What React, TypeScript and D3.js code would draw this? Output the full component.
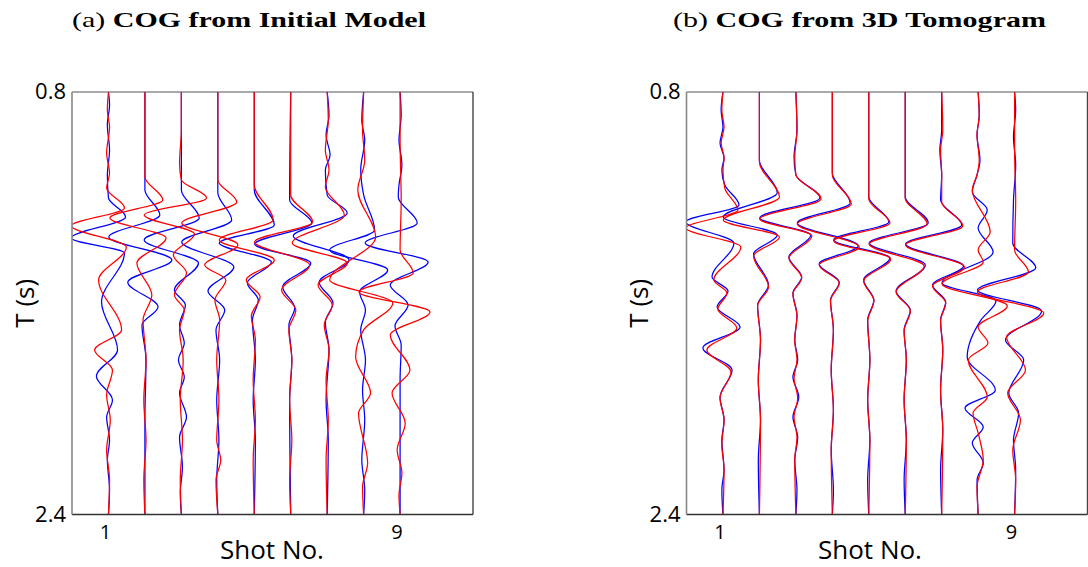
import React from "react";
import * as d3 from "d3";

type Pt = [number, number]; // [time (s), amplitude in shot-spacing units]

const shotTicks = [1, 9];
const timeTicks = [0.8, 2.4];
const timeDomain: [number, number] = [0.8, 2.4];
const shotDomain: [number, number] = [0, 11];

// (a) initial model — blue traces
const initialBlue: Pt[][] = [
  [[0.8,0],[0.849,0.03],[0.925,-0.03],[1.02,0.03],[1.114,-0.03],[1.201,0],[1.273,0.47],[1.353,-1.02],[1.41,0.44],[1.595,-0.19],[1.777,0.25],[1.876,-0.33],[1.966,0.11],[2.031,-0.05],[2.118,0.03],[2.194,-0.03],[2.307,0.03],[2.4,0]],
  [[0.8,0],[1.171,0],[1.266,0.41],[1.349,-0.99],[1.436,0.74],[1.52,-0.47],[1.614,0.36],[1.682,-0.08],[1.815,0.03],[2.042,0],[2.4,0]],
  [[0.8,0],[1.171,0],[1.277,0.49],[1.36,-1.02],[1.448,0.47],[1.55,-0.19],[1.607,0.11],[1.682,-0.05],[1.751,0.08],[1.815,-0.08],[1.879,0.08],[1.94,-0.05],[2.031,0.14],[2.107,-0.05],[2.22,0.03],[2.319,-0.03],[2.4,0]],
  [[0.8,0],[1.182,0],[1.285,0.38],[1.368,-0.99],[1.463,0.44],[1.554,-0.27],[1.626,0.19],[1.701,-0.05],[1.815,0.05],[1.966,-0.03],[2.118,0.03],[2.269,-0.03],[2.4,0]],
  [[0.8,0],[1.171,0],[1.304,0.55],[1.372,-0.96],[1.444,0.47],[1.523,-0.19],[1.588,0.11],[1.663,-0.05],[1.815,0.03],[1.966,-0.03],[2.118,0.03],[2.4,0]],
  [[0.8,0],[1.209,-0.03],[1.296,0.58],[1.376,-0.99],[1.448,0.55],[1.538,-0.22],[1.618,0.11],[1.682,-0.05],[1.815,0.03],[1.966,-0.03],[2.4,0]],
  [[0.8,0],[0.887,0.05],[0.963,-0.03],[1.039,0.08],[1.095,-0.05],[1.19,0],[1.258,0.55],[1.345,-0.93],[1.436,0.6],[1.52,-0.22],[1.599,0.16],[1.671,-0.05],[1.777,0.05],[1.966,-0.03],[2.118,0.03],[2.4,0]],
  [[0.8,0],[0.906,-0.05],[0.982,0.03],[1.095,-0.08],[1.19,0],[1.323,0.3],[1.398,-0.93],[1.474,0.66],[1.557,-0.11],[1.626,0.05],[1.701,-0.08],[1.815,0.05],[1.929,-0.03],[2.042,0.03],[2.194,-0.05],[2.307,0.03],[2.4,0]],
  [[0.8,0],[0.887,0.03],[0.982,-0.03],[1.076,0.05],[1.152,-0.03],[1.198,-0.05],[1.296,0.47],[1.372,-0.96],[1.444,0.77],[1.531,-0.27],[1.607,0.22],[1.686,-0.14],[1.758,0.03],[1.891,0],[2.4,0]],
];

// (a) initial model — red traces
const initialRed: Pt[][] = [
  [[0.8,0],[0.868,-0.03],[0.933,0.03],[1.031,-0.05],[1.107,0.03],[1.164,-0.05],[1.239,0.44],[1.307,-1.02],[1.387,0.49],[1.512,-0.27],[1.701,0.36],[1.777,-0.38],[1.853,0.11],[1.947,-0.05],[2.042,0.05],[2.156,-0.05],[2.269,0.03],[2.4,0]],
  [[0.8,0],[1.122,0],[1.209,0.49],[1.277,-0.96],[1.353,0.58],[1.448,-0.22],[1.569,0.19],[1.663,-0.05],[1.815,0.03],[1.966,-0.03],[2.118,0.03],[2.269,-0.03],[2.4,0]],
  [[0.8,0],[0.944,0],[1.069,-0.05],[1.133,0],[1.201,0.69],[1.266,-1.02],[1.338,0.36],[1.417,-0.22],[1.485,0.14],[1.569,-0.19],[1.626,0.08],[1.701,-0.05],[1.815,0.05],[1.966,-0.03],[2.118,0.03],[2.269,-0.03],[2.4,0]],
  [[0.8,0],[1.133,0],[1.217,0.52],[1.296,-0.99],[1.379,0.55],[1.455,-0.36],[1.512,0.22],[1.588,-0.08],[1.663,0.05],[1.815,-0.03],[1.966,0.03],[2.118,-0.03],[2.194,0.08],[2.269,-0.05],[2.4,0]],
  [[0.8,0],[1.152,0],[1.285,0.52],[1.36,-0.96],[1.436,0.55],[1.512,-0.22],[1.576,0.16],[1.648,-0.08],[1.739,0.03],[1.891,-0.03],[2.042,0.03],[2.194,-0.03],[2.4,0]],
  [[0.8,0],[1.19,0],[1.292,0.6],[1.368,-0.99],[1.455,0.52],[1.55,-0.25],[1.626,0.14],[1.701,-0.05],[1.815,0.03],[1.966,-0.03],[2.118,0.03],[2.269,-0.03],[2.4,0]],
  [[0.8,0],[0.906,0.03],[1.02,-0.05],[1.095,0.05],[1.16,-0.05],[1.266,0.47],[1.372,-0.96],[1.448,0.55],[1.531,-0.25],[1.607,0.14],[1.682,-0.08],[1.777,0.05],[1.891,-0.03],[2.042,0.03],[2.194,-0.03],[2.4,0]],
  [[0.8,0],[0.944,-0.03],[1.058,0.03],[1.171,-0.16],[1.349,0.33],[1.512,-0.93],[1.599,0.8],[1.701,0],[1.804,-0.22],[1.94,0.19],[2.016,-0.14],[2.205,0.11],[2.296,-0.03],[2.4,0]],
  [[0.8,0],[0.982,0],[1.209,0.03],[1.398,0],[1.485,0.36],[1.557,-1.13],[1.633,0.82],[1.72,-0.27],[1.853,0.27],[1.94,-0.22],[2.054,0.14],[2.156,-0.08],[2.243,0.05],[2.326,-0.03],[2.4,0]],
];

// (b) 3D tomogram — blue traces
const tomoBlue: Pt[][] = [
  [[0.8,0],[0.868,-0.05],[0.933,0],[0.993,-0.08],[1.05,0.03],[1.095,-0.03],[1.152,0.05],[1.228,0.44],[1.292,-1.02],[1.372,0.3],[1.501,-0.3],[1.554,0.14],[1.614,-0.16],[1.69,0.47],[1.769,-0.55],[1.853,0.25],[1.955,-0.08],[2.042,0.03],[2.118,-0.03],[2.231,0.03],[2.307,-0.03],[2.4,0]],
  [[0.8,0],[1.058,0],[1.182,0.49],[1.273,-0.99],[1.342,0.49],[1.413,-0.16],[1.531,0.25],[1.607,-0.05],[1.739,0.03],[1.891,-0.03],[2.042,0.03],[2.194,-0.03],[2.4,0]],
  [[0.8,0],[0.944,0.03],[1.046,-0.05],[1.114,0],[1.201,0.66],[1.277,-0.99],[1.342,0.41],[1.425,-0.19],[1.501,0.16],[1.561,-0.08],[1.645,0.03],[1.739,-0.03],[1.815,0.05],[1.879,-0.08],[1.955,0.08],[2.031,-0.08],[2.107,0.05],[2.194,-0.03],[2.307,0.03],[2.4,0]],
  [[0.8,0],[1.107,0],[1.22,0.49],[1.296,-0.96],[1.383,0.71],[1.451,-0.36],[1.52,0.19],[1.588,-0.05],[1.701,0.03],[1.853,-0.03],[2.004,0.03],[2.156,-0.03],[2.307,0.03],[2.4,0]],
  [[0.8,0],[1.198,0],[1.292,0.55],[1.36,-0.96],[1.429,0.58],[1.512,-0.14],[1.588,0.14],[1.663,-0.03],[1.815,0.03],[1.966,-0.03],[2.118,0.03],[2.269,-0.03],[2.4,0]],
  [[0.8,0],[1.198,0],[1.296,0.63],[1.372,-0.99],[1.455,0.55],[1.554,-0.25],[1.626,0.14],[1.701,-0.03],[1.815,0.03],[1.966,-0.03],[2.118,0.03],[2.269,-0.03],[2.4,0]],
  [[0.8,0],[0.944,0],[1.02,-0.05],[1.114,0],[1.209,-0.03],[1.304,0.55],[1.376,-0.99],[1.459,0.6],[1.531,-0.25],[1.595,0.11],[1.663,-0.03],[1.777,0.03],[1.929,-0.03],[2.08,0.03],[2.231,-0.03],[2.4,0]],
  [[0.8,0],[0.887,0.03],[0.963,-0.03],[1.058,0.05],[1.114,-0.03],[1.179,-0.16],[1.247,0.25],[1.315,0],[1.406,0.41],[1.523,-0.99],[1.591,0.49],[1.663,0.08],[1.804,-0.3],[1.929,0.47],[1.997,-0.36],[2.069,0.14],[2.129,-0.16],[2.205,0.14],[2.269,-0.03],[2.4,0]],
  [[0.8,0],[0.868,0.03],[0.97,-0.03],[1.076,0.03],[1.209,-0.03],[1.372,-0.05],[1.466,0.58],[1.55,-1.02],[1.629,0.74],[1.739,-0.25],[1.815,0.25],[1.94,-0.16],[2.016,0.11],[2.118,-0.03],[2.231,0.03],[2.4,0]],
];

// (b) 3D tomogram — red traces
const tomoRed: Pt[][] = [
  [[0.8,0],[0.868,-0.03],[0.933,0.03],[0.993,-0.05],[1.05,0.03],[1.095,0],[1.164,0.05],[1.247,0.41],[1.315,-1.02],[1.387,0.49],[1.512,-0.25],[1.561,0.11],[1.622,-0.14],[1.694,0.38],[1.777,-0.44],[1.86,0.22],[1.959,-0.08],[2.042,0.03],[2.137,-0.03],[2.231,0.03],[2.4,0]],
  [[0.8,0],[1.065,0],[1.198,0.55],[1.285,-0.99],[1.349,0.55],[1.421,-0.16],[1.538,0.25],[1.61,-0.05],[1.739,0.03],[1.891,-0.03],[2.042,0.03],[2.4,0]],
  [[0.8,0],[0.944,0.03],[1.046,-0.03],[1.114,0],[1.205,0.69],[1.281,-0.99],[1.345,0.44],[1.429,-0.19],[1.504,0.16],[1.565,-0.08],[1.648,0.03],[1.739,-0.03],[1.815,0.03],[1.883,-0.05],[1.959,0.05],[2.031,-0.05],[2.107,0.03],[2.194,-0.03],[2.4,0]],
  [[0.8,0],[1.114,0],[1.224,0.52],[1.3,-0.96],[1.387,0.74],[1.455,-0.36],[1.523,0.19],[1.591,-0.05],[1.701,0.03],[1.853,-0.03],[2.004,0.03],[2.156,-0.03],[2.4,0]],
  [[0.8,0],[1.205,0],[1.296,0.58],[1.364,-0.96],[1.432,0.6],[1.516,-0.14],[1.591,0.14],[1.667,-0.03],[1.815,0.03],[1.966,-0.03],[2.118,0.03],[2.4,0]],
  [[0.8,0],[1.201,0],[1.3,0.6],[1.376,-0.99],[1.459,0.52],[1.557,-0.25],[1.629,0.14],[1.705,-0.03],[1.815,0.03],[1.966,-0.03],[2.118,0.03],[2.4,0]],
  [[0.8,0],[0.944,0.03],[1.02,-0.03],[1.114,0],[1.217,0],[1.307,0.58],[1.379,-0.99],[1.463,0.63],[1.535,-0.25],[1.599,0.11],[1.667,-0.03],[1.777,0.03],[1.929,-0.03],[2.08,0.03],[2.4,0]],
  [[0.8,0],[0.887,0.03],[0.963,-0.03],[1.058,0.03],[1.114,-0.03],[1.171,-0.16],[1.33,0.33],[1.398,0],[1.444,0.14],[1.527,-0.99],[1.61,0.8],[1.69,0],[1.751,0.27],[1.815,-0.27],[1.955,0.25],[2.016,-0.14],[2.091,0],[2.194,0.14],[2.296,-0.03],[2.4,0]],
  [[0.8,0],[1.02,0],[1.209,0.03],[1.398,0],[1.482,0.38],[1.557,-1.02],[1.637,0.8],[1.728,-0.22],[1.853,0.3],[1.94,-0.19],[2.042,0.16],[2.156,-0.05],[2.269,0.03],[2.4,0]],
];

const WIDTH = 1088;
const HEIGHT = 567;
const TOP = 92;
const BOTTOM = 514.5;
const PANEL_W = 401;

interface PanelSpec {
  key: string;
  tag: string;
  title: string;
  left: number;
  titleX: number;
  titleW: number;
  yLabelX: number;
  xLabelX: number;
  blue: Pt[][];
  red: Pt[][];
}

const panels: PanelSpec[] = [
  { key: "a", tag: "(a) ", title: "COG from Initial Model", left: 72, titleX: 72, titleW: 354, yLabelX: 34, xLabelX: 272, blue: initialBlue, red: initialRed },
  { key: "b", tag: "(b) ", title: "COG from 3D Tomogram", left: 686.5, titleX: 673, titleW: 373, yLabelX: 648, xLabelX: 870, blue: tomoBlue, red: tomoRed },
];

const sansFont = "'Open Sans', 'Noto Sans', sans-serif";
const serifFont = "'Liberation Serif', 'DejaVu Serif', serif";

function Panel({ p }: { p: PanelSpec }) {
  const x = d3.scaleLinear().domain(shotDomain).range([p.left, p.left + PANEL_W]);
  const y = d3.scaleLinear().domain(timeDomain).range([TOP, BOTTOM]);
  const clipId = `clip-${p.key}`;

  const traceLine = (shot: number) =>
    d3
      .line<Pt>()
      .x((d) => x(shot + d[1]))
      .y((d) => y(d[0]))
      .curve(d3.curveMonotoneY);

  const x0 = x(shotDomain[0]);
  const x1 = x(shotDomain[1]);

  return (
    <g>
      <defs>
        <clipPath id={clipId}>
          <rect x={x0} y={TOP} width={x1 - x0} height={BOTTOM - TOP} />
        </clipPath>
      </defs>

      <text
        x={p.titleX}
        y={27}
        fontFamily={serifFont}
        fontSize={22}
        textLength={p.titleW}
        lengthAdjust="spacingAndGlyphs"
        fill="#000"
      >
        <tspan>{p.tag}</tspan>
        <tspan fontWeight="bold">{p.title}</tspan>
      </text>

      <g clipPath={`url(#${clipId})`} fill="none" strokeWidth={1.25}>
        {p.blue.map((tr, i) => (
          <path key={`b${i}`} d={traceLine(i + 1)(tr) ?? ""} stroke="#0000ff" />
        ))}
        {p.red.map((tr, i) => (
          <path key={`r${i}`} d={traceLine(i + 1)(tr) ?? ""} stroke="#ff0000" />
        ))}
      </g>

      {/* frame */}
      <line x1={x0} x2={x1} y1={TOP} y2={TOP} stroke="#555" strokeWidth={1.2} />
      <line x1={x1} x2={x1} y1={TOP} y2={BOTTOM} stroke="#444" strokeWidth={1.4} />
      <line x1={x0} x2={x1} y1={BOTTOM} y2={BOTTOM} stroke="#333" strokeWidth={1.4} />
      <line x1={x0} x2={x0} y1={TOP} y2={BOTTOM} stroke="#888" strokeWidth={1.6} />

      {timeTicks.map((t) => (
        <text
          key={`yt${t}`}
          x={x0 - 6}
          y={y(t) + 7}
          textAnchor="end"
          fontFamily={sansFont}
          fontSize={22}
          fill="#000"
        >
          {t.toFixed(1)}
        </text>
      ))}

      {shotTicks.map((s) => (
        <text
          key={`xt${s}`}
          x={x(s) - 3}
          y={539}
          textAnchor="middle"
          fontFamily={sansFont}
          fontSize={20}
          fill="#000"
        >
          {s}
        </text>
      ))}

      <text
        x={p.xLabelX}
        y={559}
        textAnchor="middle"
        fontFamily={sansFont}
        fontSize={26}
        fill="#000"
      >
        Shot No.
      </text>

      <text
        transform={`translate(${p.yLabelX},${(TOP + BOTTOM) / 2}) rotate(-90)`}
        textAnchor="middle"
        fontFamily={sansFont}
        fontSize={26}
        fill="#000"
      >
        T (s)
      </text>
    </g>
  );
}

export default function App() {
  return (
    <svg
      width={WIDTH}
      height={HEIGHT}
      viewBox={`0 0 ${WIDTH} ${HEIGHT}`}
      style={{ position: "absolute", left: 0, top: 0, background: "#fff" }}
    >
      <rect x={0} y={0} width={WIDTH} height={HEIGHT} fill="#fff" />
      {panels.map((p) => (
        <Panel key={p.key} p={p} />
      ))}
    </svg>
  );
}
